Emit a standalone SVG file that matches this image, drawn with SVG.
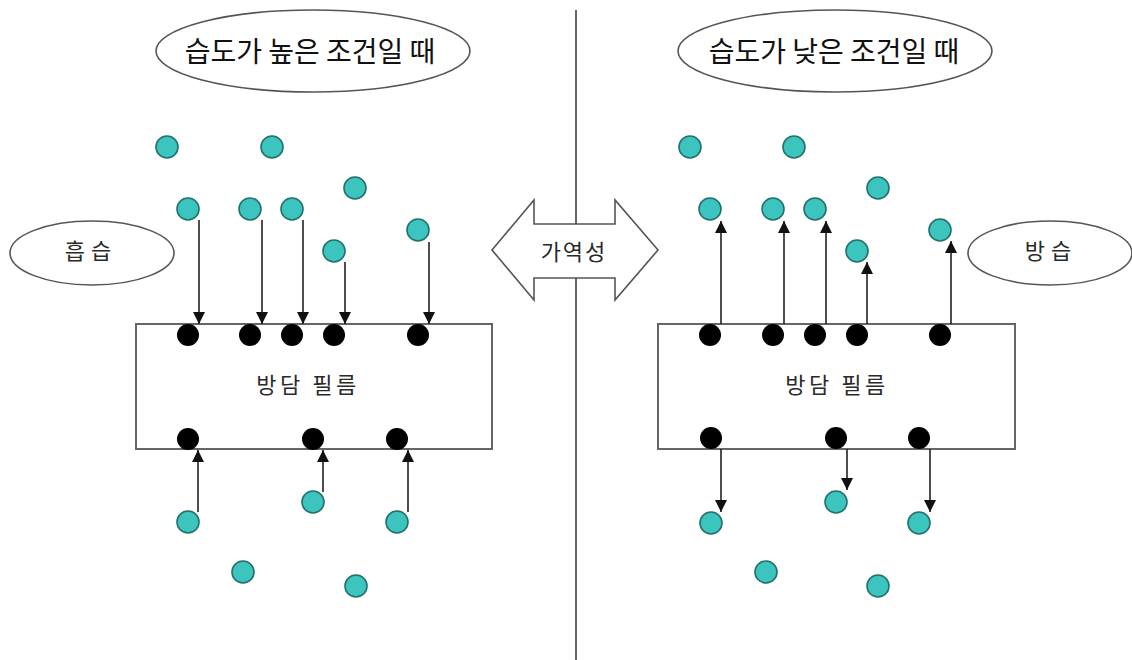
<svg xmlns="http://www.w3.org/2000/svg" width="1132" height="660" viewBox="0 0 1132 660">
<defs>
<style>
.lbl{fill:#fff;stroke:#555;stroke-width:1.6}
.t{font-family:"Noto Sans CJK KR","Noto Sans",sans-serif;fill:#111;text-anchor:middle}
.s{fill:#2a2a2a;font-size:22px}
.box{fill:#fff;stroke:#666;stroke-width:2}
.w{fill:#3cc4bf;stroke:#23706c;stroke-width:1.6}
.b{fill:#000}
.c{stroke:#222;stroke-width:1.6;fill:none}
</style>
<marker id="ah" viewBox="0 0 12 12" refX="12" refY="6" markerWidth="12" markerHeight="12" markerUnits="userSpaceOnUse" orient="auto"><path d="M0,0 L12,6 L0,12 z" fill="#111"/></marker>
</defs>
<rect width="1132" height="660" fill="#fff"/>
<line x1="576" y1="10" x2="576" y2="660" stroke="#666" stroke-width="2"/>
<g id="title-high"><ellipse class="lbl" cx="313" cy="51" rx="157" ry="41"/><text class="t" x="310" y="62" font-size="28">습도가 높은 조건일 때</text></g>
<g id="title-low"><ellipse class="lbl" cx="835" cy="51" rx="157" ry="41"/><text class="t" x="834" y="62" font-size="28">습도가 낮은 조건일 때</text></g>
<g id="absorb"><ellipse class="lbl" cx="92" cy="253" rx="82" ry="32"/><text class="t s" x="91" y="259" letter-spacing="6">흡습</text></g>
<g id="desorb"><ellipse class="lbl" cx="1050" cy="253" rx="82" ry="32"/><text class="t s" x="1051" y="259" letter-spacing="6">방습</text></g>
<g id="reversible"><path d="M492,250 L534,200 L534,224 L615,224 L615,200 L658,250 L615,300 L615,278 L534,278 L534,300 Z" fill="#fff" stroke="#555" stroke-width="1.6"/><text class="t s" x="574" y="260" letter-spacing="2">가역성</text></g>
<g id="film-left"><rect class="box" x="136" y="324" width="356" height="125"/><text class="t s" x="308" y="393" letter-spacing="3.5">방담 필름</text></g>
<g id="film-right"><rect class="box" x="658" y="324" width="357" height="125"/><text class="t s" x="837" y="393" letter-spacing="3.5">방담 필름</text></g>
<g id="connectors">
<line class="c" x1="199" y1="220" x2="199" y2="324" marker-end="url(#ah)"/>
<line class="c" x1="262" y1="220" x2="262" y2="324" marker-end="url(#ah)"/>
<line class="c" x1="303" y1="220" x2="303" y2="324" marker-end="url(#ah)"/>
<line class="c" x1="345" y1="262" x2="345" y2="324" marker-end="url(#ah)"/>
<line class="c" x1="429" y1="242" x2="429" y2="324" marker-end="url(#ah)"/>
<line class="c" x1="198" y1="512" x2="198" y2="450" marker-end="url(#ah)"/>
<line class="c" x1="323" y1="492" x2="323" y2="450" marker-end="url(#ah)"/>
<line class="c" x1="408" y1="512" x2="408" y2="450" marker-end="url(#ah)"/>
<line class="c" x1="721" y1="324" x2="721" y2="221" marker-end="url(#ah)"/>
<line class="c" x1="784" y1="324" x2="784" y2="221" marker-end="url(#ah)"/>
<line class="c" x1="826" y1="324" x2="826" y2="221" marker-end="url(#ah)"/>
<line class="c" x1="867" y1="324" x2="867" y2="262" marker-end="url(#ah)"/>
<line class="c" x1="951" y1="324" x2="951" y2="241" marker-end="url(#ah)"/>
<line class="c" x1="721" y1="449" x2="721" y2="512" marker-end="url(#ah)"/>
<line class="c" x1="847" y1="449" x2="847" y2="490" marker-end="url(#ah)"/>
<line class="c" x1="930" y1="449" x2="930" y2="512" marker-end="url(#ah)"/>
</g>
<g id="water-left">
<circle class="w" cx="167" cy="147" r="11"/><circle class="w" cx="272" cy="147" r="11"/><circle class="w" cx="355" cy="188" r="11"/>
<circle class="w" cx="188" cy="209" r="11"/><circle class="w" cx="250" cy="209" r="11"/><circle class="w" cx="292" cy="209" r="11"/>
<circle class="w" cx="334" cy="251" r="11"/><circle class="w" cx="418" cy="230" r="11"/>
<circle class="w" cx="188" cy="522" r="11"/><circle class="w" cx="313" cy="502" r="11"/><circle class="w" cx="397" cy="522" r="11"/>
<circle class="w" cx="243" cy="572" r="11"/><circle class="w" cx="356" cy="586" r="11"/>
</g>
<g id="sites-left">
<circle class="b" cx="188" cy="335" r="11"/><circle class="b" cx="250" cy="335" r="11"/><circle class="b" cx="292" cy="335" r="11"/><circle class="b" cx="334" cy="335" r="11"/><circle class="b" cx="418" cy="335" r="11"/>
<circle class="b" cx="188" cy="439" r="11"/><circle class="b" cx="313" cy="439" r="11"/><circle class="b" cx="397" cy="439" r="11"/>
</g>
<g id="water-right">
<circle class="w" cx="690" cy="147" r="11"/><circle class="w" cx="794" cy="147" r="11"/><circle class="w" cx="878" cy="188" r="11"/>
<circle class="w" cx="710" cy="209" r="11"/><circle class="w" cx="773" cy="209" r="11"/><circle class="w" cx="815" cy="209" r="11"/>
<circle class="w" cx="857" cy="251" r="11"/><circle class="w" cx="940" cy="230" r="11"/>
<circle class="w" cx="711" cy="523" r="11"/><circle class="w" cx="836" cy="502" r="11"/><circle class="w" cx="919" cy="523" r="11"/>
<circle class="w" cx="766" cy="572" r="11"/><circle class="w" cx="878" cy="586" r="11"/>
</g>
<g id="sites-right">
<circle class="b" cx="710" cy="335" r="11"/><circle class="b" cx="773" cy="335" r="11"/><circle class="b" cx="815" cy="335" r="11"/><circle class="b" cx="857" cy="335" r="11"/><circle class="b" cx="940" cy="335" r="11"/>
<circle class="b" cx="711" cy="438" r="11"/><circle class="b" cx="836" cy="438" r="11"/><circle class="b" cx="919" cy="438" r="11"/>
</g>
</svg>
